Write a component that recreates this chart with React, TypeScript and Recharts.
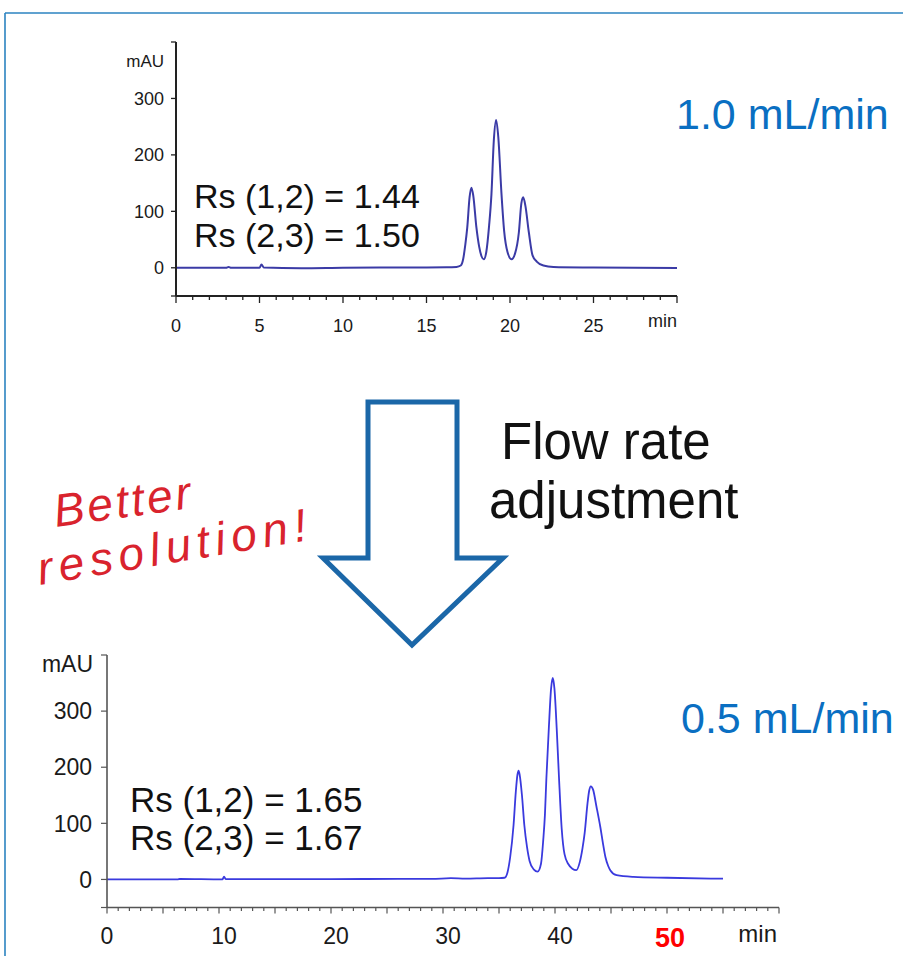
import { Line, LineChart, XAxis, YAxis } from "recharts";

// chromatogram at 1.0 mL/min
const topTime = [0, 3.0, 3.15, 3.3, 5.0, 5.12, 5.25, 7.5, 10, 14, 16.2, 16.8, 17.05, 17.2, 17.32, 17.44, 17.58, 17.69, 17.8, 17.99, 18.15, 18.3, 18.43, 18.58, 18.75, 18.89, 19.03, 19.17, 19.3, 19.49, 19.65, 19.85, 20.09, 20.3, 20.53, 20.68, 20.79, 20.92, 21.13, 21.35, 21.6, 22.0, 22.6, 25, 30];
const topSignal = [0, 0, 1.5, 0, 0, 6, 0.5, -0.8, 0, 0.5, 0.8, 1.5, 4, 16, 40, 71, 125, 142, 128, 71, 38, 20, 15, 28, 75, 131, 225, 262, 231, 131, 65, 28, 15, 25, 62.5, 114, 125, 110, 62.5, 22, 11, 4, 1.5, 0.5, -0.5];

// chromatogram at 0.5 mL/min
const bottomTime = [0, 6.3, 6.5, 10.3, 10.45, 10.6, 14, 20, 26, 29, 30.7, 32, 34, 35.0, 35.5, 35.75, 36.0, 36.3, 36.5, 36.65, 36.75, 36.85, 37.05, 37.26, 37.5, 37.73, 38.1, 38.45, 38.75, 38.95, 39.1, 39.23, 39.45, 39.65, 39.8, 39.95, 40.15, 40.36, 40.6, 40.85, 41.2, 41.55, 41.9, 42.2, 42.45, 42.65, 42.9, 43.05, 43.2, 43.4, 43.7, 44.05, 44.3, 44.5, 44.75, 44.95, 45.5, 47, 50, 55];
const bottomSignal = [0, 0, 0.8, 0, 5, 0.5, 0.5, 0.5, 1, 1, 2.2, 1.5, 2.5, 2.5, 3, 12, 40, 97, 156, 187, 194, 186, 150, 97, 58, 33, 18, 14, 28, 70, 115, 180, 270, 340, 359, 340, 270, 180, 90, 45, 27, 19, 16.5, 30, 55, 83, 135, 158, 166, 160, 130, 93, 62, 40, 24, 16, 7.5, 4.6, 3, 1.3];

const topXTicks = Array.from({ length: 31 }, (_, i) => i);
const bottomXTicks = Array.from({ length: 61 }, (_, i) => i);
const yTicks = [-50, 0, 100, 200, 300, 400];
const yLabels = [0, 100, 200, 300];

const resolution = {
  top: ["Rs (1,2) = 1.44", "Rs (2,3) = 1.50"],
  bottom: ["Rs (1,2) = 1.65", "Rs (2,3) = 1.67"],
};

const FONT = "'Liberation Sans', Arial, Helvetica, sans-serif";

const topData = topTime.map((t, i) => ({ t, v: topSignal[i] }));
const bottomData = bottomTime.map((t, i) => ({ t, v: bottomSignal[i] }));

const TopXTick = (props: any) => {
  const { x, y, payload } = props;
  const v = payload.value;
  const major = v % 5 === 0;
  return (
    <g>
      <line x1={x} y1={y} x2={x} y2={y + (major ? 7 : 4)} stroke="#222" strokeWidth={1.3} />
      {major && v < 30 && (
        <text x={x} y={y + 36} textAnchor="middle" fontSize={18} fill="#1a1a1a" fontFamily={FONT}>
          {v}
        </text>
      )}
    </g>
  );
};

const TopYTick = (props: any) => {
  const { x, y, payload } = props;
  const v = payload.value;
  return (
    <g>
      <line x1={x - 5} y1={y} x2={x} y2={y} stroke="#222" strokeWidth={1.3} />
      {yLabels.includes(v) && (
        <text x={x - 12} y={y + 6.5} textAnchor="end" fontSize={18} fill="#1a1a1a" fontFamily={FONT}>
          {v}
        </text>
      )}
    </g>
  );
};

const BottomXTick = (props: any) => {
  const { x, y, payload } = props;
  const v = payload.value;
  const major = v % 5 === 0;
  const labelled = v % 10 === 0 && v < 60;
  const red = v === 50;
  return (
    <g>
      <line x1={x} y1={y} x2={x} y2={y + (major ? 6 : 3.5)} stroke="#555" strokeWidth={1.2} />
      {labelled && (
        <text
          x={x + (v === 0 ? 0 : red ? 3 : 5)}
          y={y + (red ? 39 : 36)}
          textAnchor="middle"
          fontSize={red ? 27 : 23}
          fontWeight={red ? "bold" : "normal"}
          fill={red ? "#ff0000" : "#1a1a1a"}
          fontFamily={FONT}
        >
          {v}
        </text>
      )}
    </g>
  );
};

const BottomYTick = (props: any) => {
  const { x, y, payload } = props;
  const v = payload.value;
  return (
    <g>
      <line x1={x - 6} y1={y} x2={x} y2={y} stroke="#555" strokeWidth={1.2} />
      {yLabels.includes(v) && (
        <text x={x - 15} y={y + 8.2} textAnchor="end" fontSize={23} fill="#1a1a1a" fontFamily={FONT}>
          {v}
        </text>
      )}
    </g>
  );
};

const Annotations = () => (
  <svg width={903} height={956} style={{ position: "absolute", left: 0, top: 0 }}>
    {/* frame */}
    <line x1={5} y1={13} x2={903} y2={13} stroke="#2b83c0" strokeWidth={1.6} />
    <line x1={5} y1={13} x2={5} y2={956} stroke="#2b83c0" strokeWidth={1.6} />

    {/* flow arrow */}
    <polygon
      points="368,402 457,402 457,558 503,558 412,645 323,558 368,558"
      fill="#fff"
      stroke="#1b67a8"
      strokeWidth={5}
    />
    <text x={501} y={459} fontSize={51} fill="#111" fontFamily={FONT}>Flow rate</text>
    <text x={489} y={518} fontSize={51} fill="#111" fontFamily={FONT}>adjustment</text>

    <text x={56} y={527} fontSize={46} fontStyle="italic" letterSpacing={3} fill="#d9232d" fontFamily={FONT} transform="rotate(-8 56 527)">
      Better
    </text>
    <text x={40} y={585} fontSize={46} fontStyle="italic" letterSpacing={6} fill="#d9232d" fontFamily={FONT} transform="rotate(-9.5 40 585)">
      resolution!
    </text>

    {/* top panel labels */}
    <text x={164} y={66.7} textAnchor="end" fontSize={17} fill="#1a1a1a" fontFamily={FONT}>mAU</text>
    <text x={677} y={327} textAnchor="end" fontSize={18} fill="#1a1a1a" fontFamily={FONT}>min</text>
    <text x={194} y={207.5} fontSize={34} fill="#111" fontFamily={FONT}>{resolution.top[0]}</text>
    <text x={194} y={246.7} fontSize={34} fill="#111" fontFamily={FONT}>{resolution.top[1]}</text>
    <text x={676} y={129.3} fontSize={43} fill="#0a6fc2" fontFamily={FONT}>1.0 mL/min</text>

    {/* bottom panel labels */}
    <text x={93} y={671.7} textAnchor="end" fontSize={23} fill="#1a1a1a" fontFamily={FONT}>mAU</text>
    <text x={777} y={941.7} textAnchor="end" fontSize={24} fill="#1a1a1a" fontFamily={FONT}>min</text>
    <text x={130} y={811.7} fontSize={35} fill="#111" fontFamily={FONT}>{resolution.bottom[0]}</text>
    <text x={130} y={850} fontSize={35} fill="#111" fontFamily={FONT}>{resolution.bottom[1]}</text>
    <text x={681} y={733.3} fontSize={43} fill="#0a6fc2" fontFamily={FONT}>0.5 mL/min</text>
  </svg>
);

const App = () => {
  return (
    <div style={{ position: "absolute", left: 0, top: 0, width: 903, height: 956, background: "#fff", overflow: "hidden", fontFamily: FONT }}>
      <Annotations />

      <div style={{ position: "absolute", left: 0, top: 0 }}>
        <LineChart width={903} height={345} data={topData} margin={{ top: 42, right: 226, bottom: 19, left: 116 }}>
          <XAxis
            dataKey="t"
            type="number"
            domain={[0, 30]}
            ticks={topXTicks}
            interval={0}
            height={30}
            tickSize={0}
            tickMargin={0}
            tickLine={false}
            tick={(p: any) => <TopXTick {...p} />}
            axisLine={{ stroke: "#222", strokeWidth: 2 }}
          />
          <YAxis
            type="number"
            domain={[-50, 400]}
            ticks={yTicks}
            interval={0}
            width={60}
            tickSize={0}
            tickMargin={0}
            tickLine={false}
            tick={(p: any) => <TopYTick {...p} />}
            axisLine={{ stroke: "#222", strokeWidth: 2 }}
          />
          <Line
            dataKey="v"
            type="monotone"
            stroke="#3b3ba6"
            strokeWidth={2}
            dot={false}
            isAnimationActive={false}
          />
        </LineChart>
      </div>

      <div style={{ position: "absolute", left: 0, top: 600 }}>
        <LineChart width={903} height={356} data={bottomData} margin={{ top: 55, right: 124, bottom: 8.5, left: 47 }}>
          <XAxis
            dataKey="t"
            type="number"
            domain={[0, 60]}
            ticks={bottomXTicks}
            interval={0}
            height={40}
            tickSize={0}
            tickMargin={0}
            tickLine={false}
            tick={(p: any) => <BottomXTick {...p} />}
            axisLine={{ stroke: "#555", strokeWidth: 1.6 }}
          />
          <YAxis
            type="number"
            domain={[-50, 400]}
            ticks={yTicks}
            interval={0}
            width={60}
            tickSize={0}
            tickMargin={0}
            tickLine={false}
            tick={(p: any) => <BottomYTick {...p} />}
            axisLine={{ stroke: "#555", strokeWidth: 1.6 }}
          />
          <Line
            dataKey="v"
            type="monotone"
            stroke="#3a3ade"
            strokeWidth={1.8}
            dot={false}
            isAnimationActive={false}
          />
        </LineChart>
      </div>
    </div>
  );
};

export default App;
